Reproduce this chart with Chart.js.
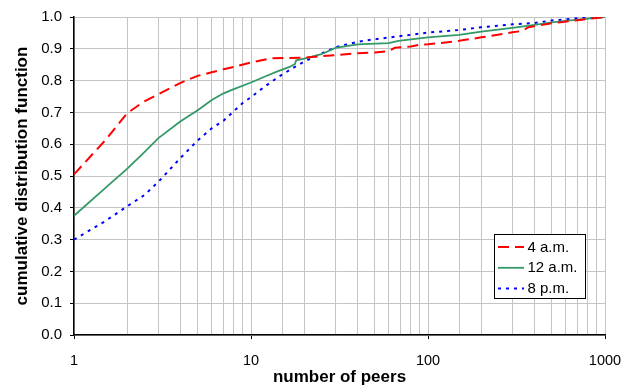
<!DOCTYPE html>
<html>
<head>
<meta charset="utf-8">
<script src="https://cdn.jsdelivr.net/npm/chart.js@4/dist/chart.umd.min.js"></script>
<style>
  body { margin: 0; background: #fff; }
</style>
</head>
<body>
<canvas id="cdf" width="629" height="386"></canvas>
<script>
const seriesNames = ["4 a.m.", "12 a.m.", "8 p.m."];

const peers4am = [1, 1.5, 2, 2.5, 3, 4, 5, 6, 7, 8, 10, 11.5, 13, 20, 25, 30, 40, 50, 60, 65, 80, 90, 100, 150, 200, 300, 340, 370, 500, 700, 1000];
const cdf4am = [0.505, 0.612, 0.698, 0.735, 0.757, 0.793, 0.815, 0.826, 0.836, 0.843, 0.857, 0.864, 0.870, 0.872, 0.877, 0.880, 0.886, 0.888, 0.893, 0.903, 0.907, 0.913, 0.914, 0.925, 0.936, 0.952, 0.956, 0.968, 0.980, 0.990, 1.0];

const peers12am = [1, 1.5, 2, 2.5, 3, 4, 5, 6, 7, 8, 10, 12, 14, 16.5, 17.7, 18, 20, 25, 30, 40, 60, 68, 100, 150, 200, 300, 400, 500, 700, 1000];
const cdf12am = [0.375, 0.462, 0.523, 0.575, 0.619, 0.672, 0.707, 0.739, 0.760, 0.773, 0.794, 0.813, 0.828, 0.843, 0.852, 0.864, 0.869, 0.883, 0.903, 0.914, 0.918, 0.925, 0.936, 0.944, 0.954, 0.966, 0.975, 0.983, 0.992, 1.0];

const peers8pm = [1, 1.5, 2, 2.5, 3, 4, 5, 6, 7, 8, 9, 10, 12, 14.6, 17.7, 20, 25, 30, 40, 50, 80, 100, 150, 200, 300, 400, 500, 700, 1000];
const cdf8pm = [0.300, 0.358, 0.405, 0.440, 0.482, 0.557, 0.612, 0.650, 0.674, 0.704, 0.730, 0.748, 0.782, 0.815, 0.843, 0.860, 0.885, 0.905, 0.922, 0.930, 0.944, 0.951, 0.959, 0.968, 0.977, 0.981, 0.989, 0.996, 1.0];

const xTickLabels = [1, 10, 100, 1000];
const yTickStep = 0.1;

const toPoints = (xs, ys) => xs.map((x, i) => ({ x: x, y: ys[i] }));
const isDecade = (v) => xTickLabels.includes(v);

Chart.defaults.font.family = '"Liberation Sans", Arial, sans-serif';
Chart.defaults.color = "#000";

// boxed legend sitting inside the plot, lower right
const boxLegend = {
  id: "boxLegend",
  afterDraw(chart) {
    const ctx = chart.ctx;
    const area = chart.chartArea;
    const w = 91, h = 64;
    const left = Math.round(area.right - 20 - w);
    const top = Math.round(area.bottom - 37 - h);
    ctx.save();
    ctx.fillStyle = "#fff";
    ctx.fillRect(left, top, w, h);
    ctx.strokeStyle = "#000";
    ctx.lineWidth = 1;
    ctx.strokeRect(left + 0.5, top + 0.5, w, h);
    ctx.font = '15px "Liberation Sans", Arial, sans-serif';
    ctx.textBaseline = "middle";
    chart.data.datasets.forEach((ds, i) => {
      const y = top + 13 + i * 20.8;
      ctx.beginPath();
      ctx.strokeStyle = ds.borderColor;
      ctx.lineWidth = ds.borderWidth;
      ctx.setLineDash(ds.borderDash || []);
      ctx.moveTo(left + 4, y);
      ctx.lineTo(left + 30, y);
      ctx.stroke();
      ctx.setLineDash([]);
      ctx.fillStyle = "#000";
      ctx.fillText(ds.label, left + 33.5, y + 0.5);
    });
    ctx.restore();
  },
};

new Chart(document.getElementById("cdf"), {
  type: "line",
  data: {
    datasets: [
      {
        label: seriesNames[0],
        data: toPoints(peers4am, cdf4am),
        borderColor: "#ff0000",
        borderWidth: 2,
        borderDash: [11, 6],
        pointRadius: 0,
        tension: 0,
      },
      {
        label: seriesNames[1],
        data: toPoints(peers12am, cdf12am),
        borderColor: "#339966",
        borderWidth: 1.8,
        pointRadius: 0,
        tension: 0,
      },
      {
        label: seriesNames[2],
        data: toPoints(peers8pm, cdf8pm),
        borderColor: "#0000ff",
        borderWidth: 2,
        borderDash: [3, 5],
        pointRadius: 0,
        tension: 0,
      },
    ],
  },
  options: {
    responsive: false,
    animation: false,
    layout: {
      padding: { top: 16, right: 24, left: 0, bottom: 0 },
    },
    scales: {
      x: {
        type: "logarithmic",
        min: 1,
        max: 1000,
        afterFit: (scale) => {
          scale.height = 51;
          scale.paddingLeft = 0;
          scale.paddingRight = 0;
        },
        grid: {
          color: "#c4c4c4",
          lineWidth: 1,
          tickLength: 4,
          tickColor: (ctx) => (ctx.tick && isDecade(ctx.tick.value) ? "#000" : "rgba(0,0,0,0)"),
        },
        border: {
          color: "#000",
          width: 1.5,
        },
        ticks: {
          autoSkip: false,
          maxRotation: 0,
          padding: 13,
          font: { size: 14.5 },
          callback: (value) => (isDecade(value) ? String(value) : ""),
        },
        title: {
          display: true,
          text: "number of peers",
          font: { size: 17, weight: "bold" },
          padding: { top: 0, bottom: -1.5 },
        },
      },
      y: {
        min: 0,
        max: 1,
        afterFit: (scale) => {
          scale.width = 74;
        },
        grid: {
          color: "#c4c4c4",
          lineWidth: 1,
          tickLength: 4,
          tickColor: "#000",
        },
        border: {
          color: "#000",
          width: 1.5,
        },
        ticks: {
          stepSize: yTickStep,
          padding: 8,
          font: { size: 15 },
          callback: (value) => value.toFixed(1),
        },
        title: {
          display: true,
          text: "cumulative distribution function",
          font: { size: 17, weight: "bold" },
          padding: { top: 12, bottom: 0 },
        },
      },
    },
    plugins: {
      legend: { display: false },
      tooltip: { enabled: false },
    },
  },
  plugins: [boxLegend],
});
</script>
</body>
</html>
